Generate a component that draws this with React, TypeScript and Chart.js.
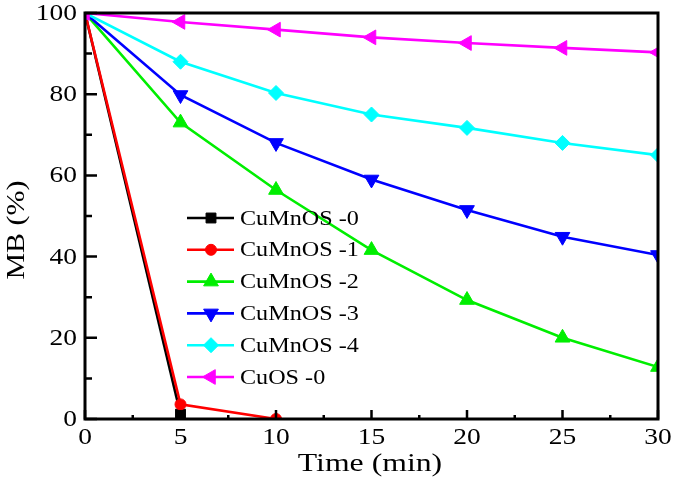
import React, { useEffect, useRef } from 'react';
import { Chart, registerables } from 'chart.js';

Chart.register(...registerables);

// ---- data ----
const timeMin = [0, 5, 10, 15, 20, 25, 30];
const cuMnOS0 = [100, 1.2];
const cuMnOS1 = [100, 3.6, 0];
const cuMnOS2 = [100, 73, 56.4, 41.6, 29.3, 20, 12.8];
const cuMnOS3 = [100, 79.8, 68, 59, 51.5, 44.9, 40.4];
const cuMnOS4 = [100, 88, 80.3, 75, 71.7, 68, 65];
const cuOS0 = [100, 97.8, 95.9, 94, 92.6, 91.4, 90.3];
const seriesLabels = ['CuMnOS -0', 'CuMnOS -1', 'CuMnOS -2', 'CuMnOS -3', 'CuMnOS -4', 'CuOS -0'];
const xTickValues = [0, 5, 10, 15, 20, 25, 30];
const xMinorTickValues = [2.5, 7.5, 12.5, 17.5, 22.5, 27.5];
const yTickValues = [0, 20, 40, 60, 80, 100];
const yMinorTickValues = [10, 30, 50, 70, 90];
const xTitle = 'Time (min)';
const yTitle = 'MB (%)';

const seriesValues = [cuMnOS0, cuMnOS1, cuMnOS2, cuMnOS3, cuMnOS4, cuOS0];
const colors = ['#000000', '#ff0000', '#00ee00', '#0000ff', '#00ffff', '#ff00ff'];
const markers = [
  { style: 'rect', r: 7, rot: 0 },
  { style: 'circle', r: 5.5, rot: 0 },
  { style: 'triangle', r: 8.5, rot: 0 },
  { style: 'triangle', r: 8.5, rot: 180 },
  { style: 'rectRot', r: 7.5, rot: 0 },
  { style: 'triangle', r: 8.5, rot: 270 },
];

const SERIF = '"Liberation Serif", "Times New Roman", serif';

function stretchText(
  ctx: CanvasRenderingContext2D,
  s: string,
  x: number,
  y: number,
  align: CanvasTextAlign,
  size: number,
  sx: number,
  angle = 0
) {
  ctx.save();
  ctx.translate(x, y);
  if (angle) ctx.rotate(angle);
  ctx.scale(sx, 1);
  ctx.font = `${size}px ${SERIF}`;
  ctx.fillStyle = '#000';
  ctx.textAlign = align;
  ctx.textBaseline = 'middle';
  ctx.fillText(s, 0, 0);
  ctx.restore();
}

function drawMarker(
  ctx: CanvasRenderingContext2D,
  style: string,
  x: number,
  y: number,
  r: number,
  rotDeg: number,
  color: string
) {
  ctx.save();
  ctx.fillStyle = color;
  ctx.strokeStyle = color;
  ctx.lineWidth = 1;
  ctx.beginPath();
  if (style === 'circle') {
    ctx.arc(x, y, r, 0, Math.PI * 2);
  } else if (style === 'rect') {
    const s = Math.SQRT1_2 * r;
    ctx.rect(x - s, y - s, 2 * s, 2 * s);
  } else if (style === 'rectRot') {
    ctx.moveTo(x - r, y);
    ctx.lineTo(x, y - r);
    ctx.lineTo(x + r, y);
    ctx.lineTo(x, y + r);
    ctx.closePath();
  } else if (style === 'triangle') {
    let rad = (rotDeg * Math.PI) / 180;
    ctx.moveTo(x + Math.sin(rad) * r, y - Math.cos(rad) * r);
    rad += (2 * Math.PI) / 3;
    ctx.lineTo(x + Math.sin(rad) * r, y - Math.cos(rad) * r);
    rad += (2 * Math.PI) / 3;
    ctx.lineTo(x + Math.sin(rad) * r, y - Math.cos(rad) * r);
    ctx.closePath();
  }
  ctx.fill();
  ctx.stroke();
  ctx.restore();
}

export default function App() {
  const ref = useRef<HTMLCanvasElement>(null);

  useEffect(() => {
    const canvas = ref.current;
    if (!canvas) return;

    const datasets = seriesValues.map((vals, i) => ({
      label: seriesLabels[i],
      data: vals.map((v, j) => ({ x: timeMin[j], y: v })),
      borderColor: colors[i],
      backgroundColor: colors[i],
      borderWidth: 2.6,
      pointStyle: markers[i].style as any,
      pointRadius: markers[i].r,
      pointRotation: markers[i].rot,
      pointBorderWidth: 1,
      pointBorderColor: colors[i],
      pointBackgroundColor: colors[i],
      tension: 0,
      fill: false,
      clip: 0,
      order: seriesValues.length - i,
    }));

    const decorPlugin = {
      id: 'decor',
      afterDraw(chart: any) {
        const ctx: CanvasRenderingContext2D = chart.ctx;
        const area = chart.chartArea;
        const xs = chart.scales.x;
        const ys = chart.scales.y;
        ctx.save();
        // frame
        ctx.strokeStyle = '#000';
        ctx.lineWidth = 3;
        ctx.strokeRect(area.left, area.top, area.right - area.left, area.bottom - area.top);
        // ticks (inward)
        ctx.lineWidth = 2.5;
        ctx.beginPath();
        yTickValues.forEach((v) => {
          const py = ys.getPixelForValue(v);
          ctx.moveTo(area.left, py);
          ctx.lineTo(area.left + 12, py);
        });
        yMinorTickValues.forEach((v) => {
          const py = ys.getPixelForValue(v);
          ctx.moveTo(area.left, py);
          ctx.lineTo(area.left + 7, py);
        });
        xTickValues.forEach((v) => {
          const px = xs.getPixelForValue(v);
          ctx.moveTo(px, area.bottom);
          ctx.lineTo(px, area.bottom - 9);
        });
        xMinorTickValues.forEach((v) => {
          const px = xs.getPixelForValue(v);
          ctx.moveTo(px, area.bottom);
          ctx.lineTo(px, area.bottom - 4);
        });
        ctx.stroke();
        ctx.restore();

        // tick labels
        yTickValues.forEach((v) => {
          stretchText(ctx, String(v), area.left - 8, ys.getPixelForValue(v) + 1, 'right', 22.5, 1.22);
        });
        xTickValues.forEach((v) => {
          stretchText(ctx, String(v), xs.getPixelForValue(v), area.bottom + 19, 'center', 22.5, 1.22);
        });
        // titles
        stretchText(ctx, xTitle, 370, 464, 'center', 25, 1.27);
        stretchText(ctx, yTitle, 17, 230, 'center', 25, 1.2, -Math.PI / 2);

        // legend
        const lx0 = 187;
        const lx1 = 234;
        const mx = 211;
        const tx = 240;
        const y0 = 218;
        const dy = 31.8;
        seriesLabels.forEach((lab, i) => {
          const y = y0 + i * dy;
          ctx.save();
          ctx.strokeStyle = colors[i];
          ctx.lineWidth = 2.6;
          ctx.beginPath();
          ctx.moveTo(lx0, y);
          ctx.lineTo(lx1, y);
          ctx.stroke();
          ctx.restore();
          drawMarker(ctx, markers[i].style, mx, y, markers[i].r, markers[i].rot, colors[i]);
          stretchText(ctx, lab, tx, y + 1, 'left', 21, 1.15);
        });
      },
    };

    const chart = new Chart(canvas, {
      type: 'line',
      data: { datasets: datasets as any },
      options: {
        responsive: false,
        animation: false,
        events: [],
        layout: { padding: { left: 85, top: 13, right: 17, bottom: 69 } },
        scales: {
          x: { type: 'linear', display: false, min: 0, max: 30 },
          y: { type: 'linear', display: false, min: 0, max: 100 },
        },
        plugins: {
          legend: { display: false },
          tooltip: { enabled: false },
        },
      },
      plugins: [decorPlugin],
    });

    return () => chart.destroy();
  }, []);

  return (
    <div style={{ position: 'fixed', left: 0, top: 0, width: 675, height: 488, background: '#fff' }}>
      <canvas ref={ref} width={675} height={488} style={{ width: 675, height: 488, display: 'block' }} />
    </div>
  );
}
